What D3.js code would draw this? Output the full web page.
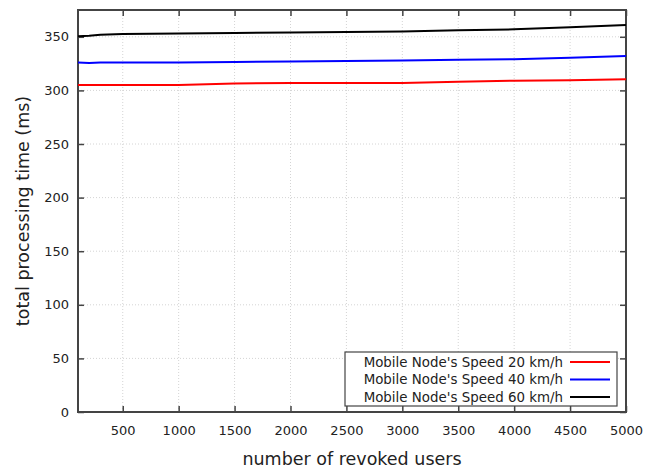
<!DOCTYPE html>
<html>
<head>
<meta charset="utf-8">
<script src="https://cdn.jsdelivr.net/npm/d3@7"></script>
<style>
  body { margin: 0; background: #fff; }
  text { font-family: "DejaVu Sans", Verdana, sans-serif; fill: #222; }
</style>
</head>
<body>
<div id="myChart"></div>
<script>
let width = 659;
let height = 468;

// data
const users = [100, 200, 300, 500, 1000, 1500, 2000, 2500, 3000, 3500, 4000, 4500, 5000];
const speed20 = [305, 305, 305, 305, 305, 306.5, 307, 307, 307, 308, 309, 309.5, 310.5];
const speed40 = [326, 325.5, 326, 326, 326, 326.5, 327, 327.5, 328, 328.5, 329, 330.5, 332];
const speed60 = [350.5, 351, 352, 352.5, 353, 353.5, 354, 354.5, 355, 356, 357, 359, 361];
const seriesNames = ["Mobile Node's Speed 20 km/h", "Mobile Node's Speed 40 km/h", "Mobile Node's Speed 60 km/h"];
const seriesColors = ["#ff0000", "#0000ff", "#000000"];
const xTicks = [500, 1000, 1500, 2000, 2500, 3000, 3500, 4000, 4500, 5000];
const yTicks = [0, 50, 100, 150, 200, 250, 300, 350];

let margin = {top: 10, right: 33, bottom: 56, left: 78};

let svg = d3.select("#myChart").append("svg")
  .attr("width", width)
  .attr("height", height);

let x = d3.scaleLinear().domain([100, 5000]).range([margin.left, width - margin.right]);
let y = d3.scaleLinear().domain([0, 375]).range([height - margin.bottom, margin.top]);

// grid
svg.append("g")
  .selectAll("line")
  .data(xTicks.slice(0, -1))
  .enter().append("line")
  .attr("x1", d => x(d)).attr("x2", d => x(d))
  .attr("y1", y(0)).attr("y2", y(375))
  .attr("stroke", "#d4d4d4").attr("stroke-dasharray", "1,2");
svg.append("g")
  .selectAll("line")
  .data(yTicks.slice(1))
  .enter().append("line")
  .attr("x1", x(100)).attr("x2", x(5000))
  .attr("y1", d => y(d)).attr("y2", d => y(d))
  .attr("stroke", "#d4d4d4").attr("stroke-dasharray", "1,2");

// axes, ticks pointing inward, mirrored on top and right
let axisColor = "#444";
function styleAxis(g) {
  g.select(".domain").remove();
  g.selectAll(".tick line").attr("stroke", axisColor).attr("stroke-width", 1.5);
  g.selectAll(".tick text").style("font-size", "13px").attr("fill", "#222");
}
svg.append("g")
  .attr("transform", `translate(0,${y(0)})`)
  .call(d3.axisBottom(x).tickValues(xTicks).tickSizeInner(-6).tickSizeOuter(0).tickPadding(14).tickFormat(d3.format("d")))
  .call(styleAxis);
svg.append("g")
  .attr("transform", `translate(0,${y(375)})`)
  .call(d3.axisTop(x).tickValues(xTicks).tickSizeInner(-6).tickSizeOuter(0).tickFormat(""))
  .call(styleAxis);
svg.append("g")
  .attr("transform", `translate(${x(100)},0)`)
  .call(d3.axisLeft(y).tickValues(yTicks).tickSizeInner(-6).tickSizeOuter(0).tickPadding(9))
  .call(styleAxis);
svg.append("g")
  .attr("transform", `translate(${x(5000)},0)`)
  .call(d3.axisRight(y).tickValues(yTicks).tickSizeInner(-6).tickSizeOuter(0).tickFormat(""))
  .call(styleAxis);

// frame
svg.append("rect")
  .attr("x", x(100)).attr("y", y(375))
  .attr("width", x(5000) - x(100)).attr("height", y(0) - y(375))
  .attr("fill", "none").attr("stroke", axisColor).attr("stroke-width", 2);

// lines
let line = d3.line().x((d, i) => x(users[i])).y(d => y(d));
[speed20, speed40, speed60].forEach((s, i) => {
  svg.append("path")
    .datum(s)
    .attr("d", line)
    .attr("fill", "none")
    .attr("stroke", seriesColors[i])
    .attr("stroke-width", 2);
});

// legend
let legend = svg.append("g");
legend.append("rect")
  .attr("x", 345).attr("y", 352).attr("width", 272).attr("height", 54)
  .attr("fill", "#fff").attr("stroke", axisColor).attr("stroke-width", 1.2);
seriesNames.forEach((name, i) => {
  let ly = 362 + i * 17.5;
  legend.append("text")
    .attr("x", 563).attr("y", ly).attr("dy", "0.35em")
    .attr("text-anchor", "end")
    .style("font-size", "13.4px")
    .text(name);
  legend.append("line")
    .attr("x1", 570).attr("x2", 610).attr("y1", ly).attr("y2", ly)
    .attr("stroke", seriesColors[i]).attr("stroke-width", 2);
});

// axis titles
svg.append("text")
  .attr("x", (x(100) + x(5000)) / 2).attr("y", 465)
  .attr("text-anchor", "middle")
  .style("font-size", "17.5px")
  .text("number of revoked users");
svg.append("text")
  .attr("transform", `translate(29,${(y(0) + y(375)) / 2}) rotate(-90)`)
  .attr("text-anchor", "middle")
  .style("font-size", "17.5px")
  .text("total processing time (ms)");
</script>
</body>
</html>
